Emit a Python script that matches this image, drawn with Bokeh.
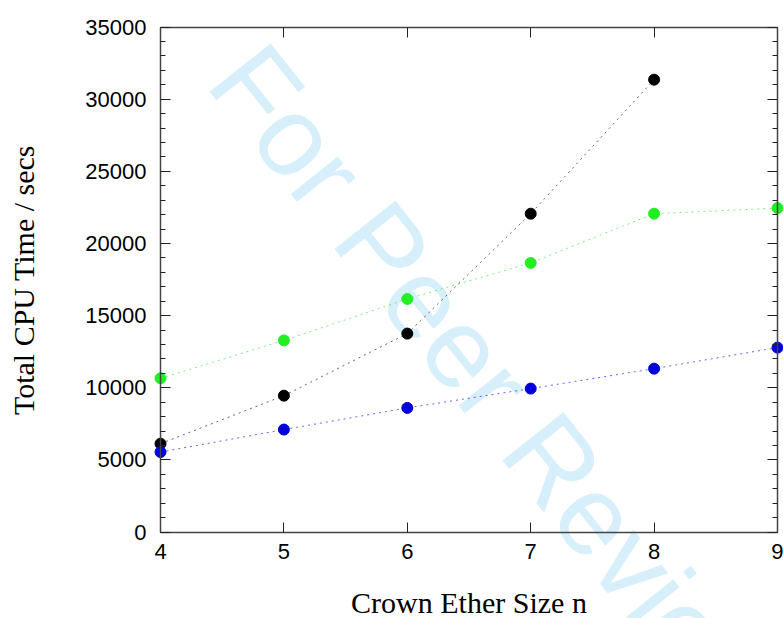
from bokeh.plotting import figure
from bokeh.models import Range1d, LinearAxis, Label, FixedTicker, ColumnDataSource
from bokeh.embed import file_html
from bokeh.resources import INLINE

# data
sizes = [4, 5, 6, 7, 8, 9]
black_n = [4, 5, 6, 7, 8]
black_t = [6120, 9450, 13750, 22060, 31350]
green_n = [4, 5, 6, 7, 8, 9]
green_t = [10650, 13280, 16150, 18650, 22060, 22450]
blue_n = [4, 5, 6, 7, 8, 9]
blue_t = [5540, 7100, 8600, 9940, 11320, 12780]
y_ticks = [0, 5000, 10000, 15000, 20000, 25000, 30000, 35000]
y_minor = list(range(0, 35001, 1000))

W, H = 783, 618
# pixel box of the axes frame inside the canvas
L, R, T, B = 160.0, 777.0, 26.5, 531.5
x_lo, x_hi = 4, 9
y_lo, y_hi = 0, 35000
sx = (R - L) / (x_hi - x_lo)
sy = (B - T) / (y_hi - y_lo)

p = figure(width=W, height=H, output_backend="svg", toolbar_location=None,
           x_axis_type=None, y_axis_type=None,
           x_range=Range1d(x_lo - L / sx, x_hi + (W - R) / sx),
           y_range=Range1d(y_lo - (H - B) / sy, y_hi + T / sy),
           min_border=0, min_border_left=0, min_border_right=0,
           min_border_top=0, min_border_bottom=0)
p.outline_line_color = None
p.background_fill_color = "white"
p.border_fill_color = "white"

# watermark, drawn beneath everything
wm = Label(x=4.60, y=32700, text="For Peer Review", angle=-0.9,
           text_font="Liberation Sans", text_font_size="113px", text_color="#d6effa",
           text_align="left", text_baseline="alphabetic", level="underlay")
p.add_layout(wm)

series = [(black_n, black_t, "#000000"), (green_n, green_t, "#22ee22"), (blue_n, blue_t, "#0000dd")]
for xs, ys, c in series:
    src = ColumnDataSource(dict(x=xs, y=ys))
    p.line("x", "y", source=src, line_color=c, line_width=1, line_alpha=0.6, line_dash="2 4")
for xs, ys, c in series:
    src = ColumnDataSource(dict(x=xs, y=ys))
    p.scatter("x", "y", source=src, size=11, fill_color=c, line_color=c)

def style(ax):
    ax.axis_line_color = "#444444"
    ax.axis_line_width = 1.5
    ax.major_tick_line_color = "#222222"
    ax.minor_tick_line_color = "#222222"
    ax.major_tick_in = 10
    ax.major_tick_out = 0
    ax.minor_tick_in = 5
    ax.minor_tick_out = 0
    ax.major_label_text_font = "Liberation Sans"
    ax.major_label_text_font_size = "22px"
    ax.major_label_text_color = "black"
    ax.axis_label_text_font = "Liberation Serif"
    ax.axis_label_text_font_style = "normal"
    ax.axis_label_text_font_size = "30px"
    ax.axis_label_text_color = "black"

bottom = LinearAxis(ticker=FixedTicker(ticks=sizes), fixed_location=y_lo, bounds=(x_lo, x_hi),
                    axis_label="Crown Ether Size n")
style(bottom)
bottom.major_label_standoff = 12
bottom.axis_label_standoff = 23
p.add_layout(bottom, "below")

left = LinearAxis(ticker=FixedTicker(ticks=y_ticks, minor_ticks=y_minor), fixed_location=x_lo,
                  bounds=(y_lo, y_hi), axis_label="Total CPU Time / secs")
style(left)
left.major_label_standoff = 14
left.axis_label_standoff = 42
p.add_layout(left, "left")

top = LinearAxis(ticker=FixedTicker(ticks=sizes), fixed_location=y_hi, bounds=(x_lo, x_hi))
style(top)
top.major_label_overrides = {t: "" for t in sizes}
top.major_label_standoff = 0
p.add_layout(top, "above")

right = LinearAxis(ticker=FixedTicker(ticks=y_ticks, minor_ticks=y_minor), fixed_location=x_hi,
                   bounds=(y_lo, y_hi))
style(right)
right.major_label_overrides = {t: "" for t in y_ticks}
right.major_label_standoff = 0
p.add_layout(right, "right")

open("out.html", "w").write(file_html(p, INLINE))
